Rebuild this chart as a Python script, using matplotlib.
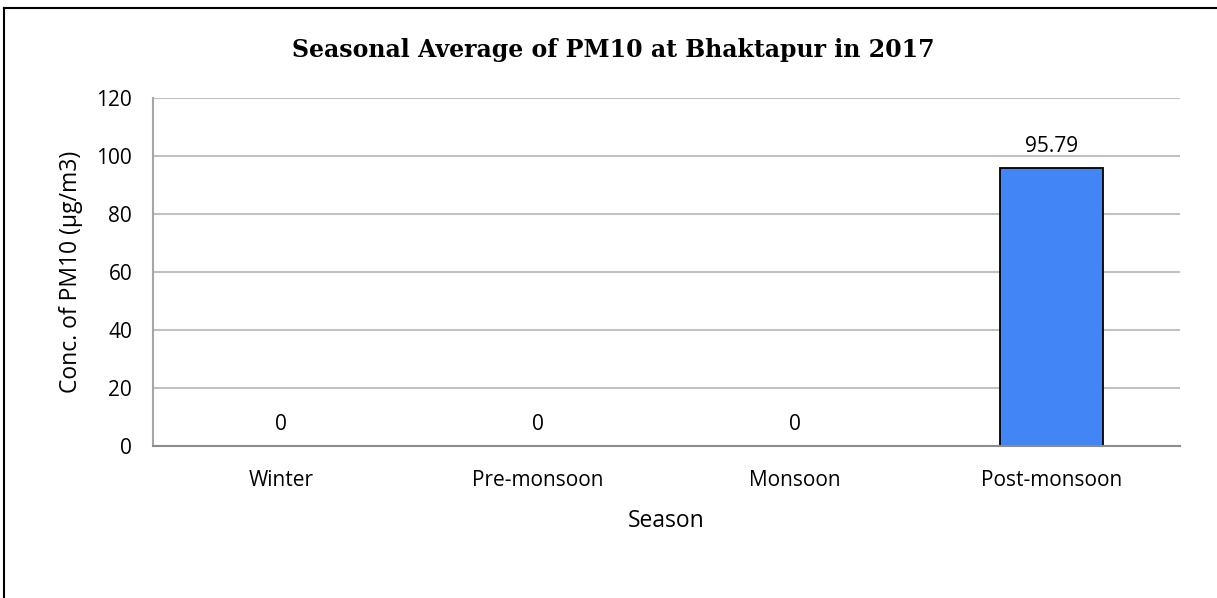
import matplotlib
matplotlib.use("Agg")
import matplotlib.pyplot as plt
from matplotlib.lines import Line2D

categories = ["Winter", "Pre-monsoon", "Monsoon", "Post-monsoon"]
values = [0, 0, 0, 95.79]
labels = ["0", "0", "0", "95.79"]
yticks = [0, 20, 40, 60, 80, 100, 120]

W, H = 1217, 598
fig = plt.figure(figsize=(W / 100, H / 100), dpi=100)
ax = fig.add_axes([153 / W, 1 - 446 / H, (1180 - 153) / W, (446 - 97.5) / H])

x = range(len(categories))
bars = ax.bar(x, values, width=0.40, color="#4285F4", edgecolor="black", linewidth=1.3, zorder=3)
ax.set_xlim(-0.5, len(categories) - 0.5)
ax.set_ylim(0, 120)
ax.set_yticks(yticks)
ax.set_xticks(list(x))
ax.set_xticklabels(categories)

font = "Open Sans"
fs = 15
for lab in ax.get_xticklabels() + ax.get_yticklabels():
    lab.set_fontfamily(font)
    lab.set_fontsize(fs)
ax.tick_params(axis="both", length=0)
ax.tick_params(axis="x", pad=17)
ax.tick_params(axis="y", pad=15)

ax.grid(axis="y", color="#C0C0C0", linewidth=1.5, zorder=0)
for s in ["top", "right"]:
    ax.spines[s].set_visible(False)
for s in ["bottom", "left"]:
    ax.spines[s].set_color("#8C8C8C")
    ax.spines[s].set_linewidth(1.5)
    ax.spines[s].set_zorder(4)
ax.spines["left"].set_color("#A6A6A6")

for xi, v, lab in zip(x, values, labels):
    ax.annotate(lab, (xi, v), xytext=(0, 8), textcoords="offset points",
                ha="center", va="bottom", fontsize=fs, fontfamily=font)

ax.set_xlabel("Season", fontsize=16.5, fontfamily=font, labelpad=13)
ax.set_ylabel("Conc. of PM10 (µg/m3)", fontsize=16.5, fontfamily=font, labelpad=10)

fig.text(613 / W, 1 - 50 / H, "Seasonal Average of PM10 at Bhaktapur in 2017",
         ha="center", va="center", fontsize=17, fontweight="bold", fontfamily="DejaVu Serif")

# outer frame (top and left edges visible)
fig.add_artist(Line2D([4 / W, 1.0], [1 - 8 / H, 1 - 8 / H], transform=fig.transFigure, color="black", linewidth=1.5))
fig.add_artist(Line2D([4 / W, 4 / W], [0, 1 - 8 / H], transform=fig.transFigure, color="black", linewidth=1.5))

fig.savefig("out.png", dpi=100)
